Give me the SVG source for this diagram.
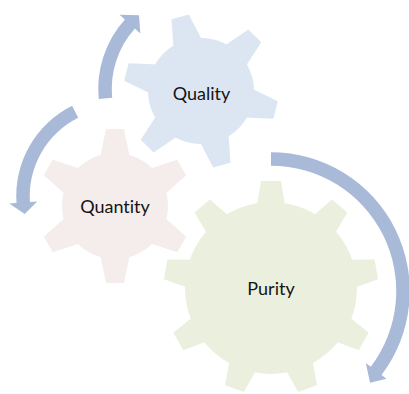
<svg xmlns="http://www.w3.org/2000/svg" xmlns:xlink="http://www.w3.org/1999/xlink" width="409" height="394" viewBox="0 0 409 394">
  <style>
    .label { font-family: Lato, "Noto Sans", "Liberation Sans", sans-serif; font-size: 18px; fill: #141414; text-anchor: middle; font-variant-ligatures: none; }
    .arrow { fill: #A8BAD8; stroke: none; }
    .quality { fill: #DCE6F2; }
    .quantity { fill: #F5EDEB; }
    .purity { fill: #EBF0DE; }
  </style>
  <defs>
    <!-- gear teeth, drawn pointing up from the gear centre -->
    <polygon id="tooth6" points="-9,-77 9,-77 15,-48 -15,-48"/>
    <polygon id="tooth9" points="-10,-107 10,-107 14.5,-80 -14.5,-80"/>
  </defs>

  <rect width="409" height="394" fill="#FFFFFF"/>

  <!-- large gear -->
  <g id="purity" class="purity">
    <circle cx="271" cy="288" r="86"/>
    <use xlink:href="#tooth9" transform="translate(271 288) rotate(0)"/>
    <use xlink:href="#tooth9" transform="translate(271 288) rotate(40)"/>
    <use xlink:href="#tooth9" transform="translate(271 288) rotate(80)"/>
    <use xlink:href="#tooth9" transform="translate(271 288) rotate(120)"/>
    <use xlink:href="#tooth9" transform="translate(271 288) rotate(160)"/>
    <use xlink:href="#tooth9" transform="translate(271 288) rotate(200)"/>
    <use xlink:href="#tooth9" transform="translate(271 288) rotate(240)"/>
    <use xlink:href="#tooth9" transform="translate(271 288) rotate(280)"/>
    <use xlink:href="#tooth9" transform="translate(271 288) rotate(320)"/>
    <text class="label" x="271" y="295">Purity</text>
  </g>

  <!-- upper gear -->
  <g id="quality" class="quality">
    <circle cx="201" cy="91" r="53"/>
    <use xlink:href="#tooth6" transform="translate(201 91) rotate(-15.7)"/>
    <use xlink:href="#tooth6" transform="translate(201 91) rotate(44.3)"/>
    <use xlink:href="#tooth6" transform="translate(201 91) rotate(104.3)"/>
    <use xlink:href="#tooth6" transform="translate(201 91) rotate(164.3)"/>
    <use xlink:href="#tooth6" transform="translate(201 91) rotate(224.3)"/>
    <use xlink:href="#tooth6" transform="translate(201 91) rotate(284.3)"/>
    <text class="label" x="201.5" y="100">Quality</text>
  </g>

  <!-- left gear -->
  <g id="quantity" class="quantity">
    <circle cx="115" cy="206" r="53"/>
    <use xlink:href="#tooth6" transform="translate(115 206) rotate(0)"/>
    <use xlink:href="#tooth6" transform="translate(115 206) rotate(60)"/>
    <use xlink:href="#tooth6" transform="translate(115 206) rotate(120)"/>
    <use xlink:href="#tooth6" transform="translate(115 206) rotate(180)"/>
    <use xlink:href="#tooth6" transform="translate(115 206) rotate(240)"/>
    <use xlink:href="#tooth6" transform="translate(115 206) rotate(300)"/>
    <text class="label" x="115" y="213">Quantity</text>
  </g>

  <!-- curved arrows circling the gears -->
  <g id="connectors" class="arrow">
    <path d="M98.74,99.12 A103.75,103.75 0 0 1 124.90,19.58 L119.51,14.73 L139.00,15.24 L140.32,33.46 L134.93,28.61 A90.25,90.25 0 0 0 112.18,97.81 Z"/>
    <path d="M72.16,105.78 A100.75,100.75 0 0 0 16.50,203.03 L9.26,203.53 L24.73,213.94 L37.20,201.58 L29.96,202.09 A87.25,87.25 0 0 1 78.17,117.87 Z"/>
    <path d="M271,152.25 A138.75,138.75 0 0 1 381.52,374.89 L386.50,378.67 L370.05,382.72 L365.79,362.95 L370.77,366.73 A125.25,125.25 0 0 0 271,165.75 Z"/>
  </g>
</svg>
